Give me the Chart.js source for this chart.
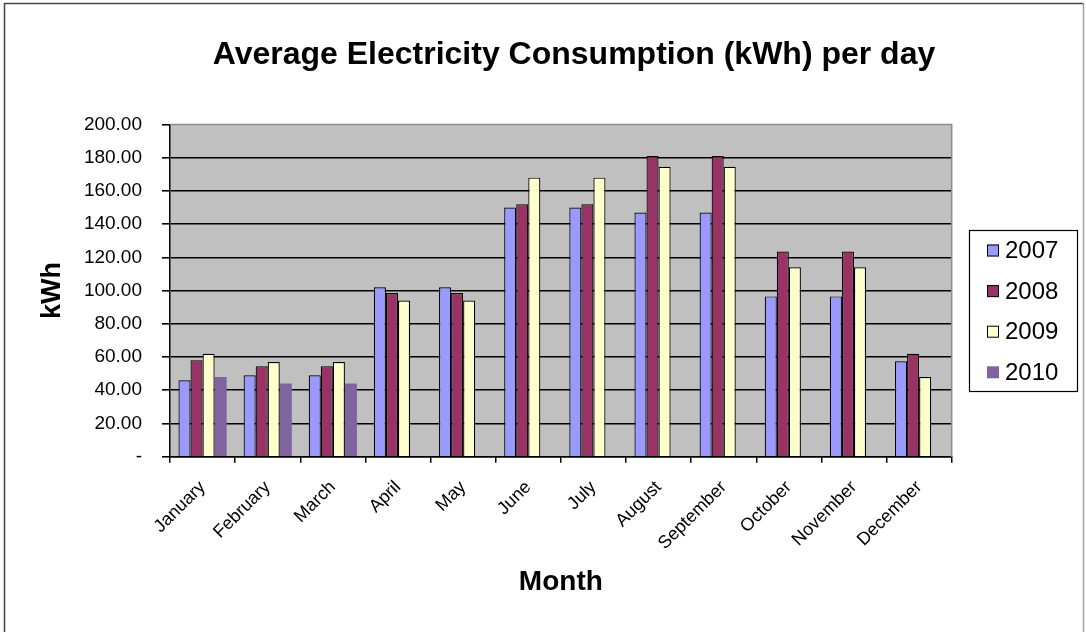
<!DOCTYPE html>
<html>
<head>
<meta charset="utf-8">
<title>Average Electricity Consumption (kWh) per day</title>
<script src="https://cdn.jsdelivr.net/npm/chart.js@4/dist/chart.umd.min.js"></script>
<style>
  html, body { margin: 0; padding: 0; background: #ffffff; }
  #wrap { width: 1086px; height: 632px; position: relative; }
</style>
</head>
<body>
<div id="wrap"><canvas id="chart" width="1086" height="632"></canvas></div>
<script>
// Months along the category axis
const months = ['January', 'February', 'March', 'April', 'May', 'June',
                'July', 'August', 'September', 'October', 'November', 'December'];

// Average daily consumption in kWh, one array per year
const kwh2007 = [46, 49, 49, 102, 102, 150, 150, 147, 147, 96.5, 96.5, 57.5];
const kwh2008 = [58, 54.5, 54.5, 98.5, 98.5, 152, 152, 181, 181, 123.5, 123.5, 62];
const kwh2009 = [62, 57, 57, 94, 94, 168, 168, 174.5, 174.5, 114, 114, 48];
const kwh2010 = [48, 44, 44, null, null, null, null, null, null, null, null, null];

const seriesLabels = ['2007', '2008', '2009', '2010'];

// Value axis labels, bottom to top (0 is shown as a dash)
const yTickLabels = ['-', '20.00', '40.00', '60.00', '80.00', '100.00',
                     '120.00', '140.00', '160.00', '180.00', '200.00'];

const chartTitle = 'Average Electricity Consumption (kWh) per day';
const yTitle = 'kWh';
const xTitle = 'Month';

const FONT = 'Arial, "Liberation Sans", sans-serif';

// Grey plot background, frame and outer border
const framePlugin = {
  id: 'frame',
  beforeDraw(chart) {
    const { ctx, chartArea: a } = chart;
    ctx.save();
    ctx.fillStyle = '#ffffff';
    ctx.fillRect(0, 0, chart.width, chart.height);
    ctx.fillStyle = '#c0c0c0';
    ctx.fillRect(a.left, a.top, a.right - a.left, a.bottom - a.top);
    // outer chart border
    ctx.lineWidth = 1.5;
    ctx.strokeStyle = '#444444';
    ctx.beginPath();
    ctx.moveTo(4.5, chart.height + 2);
    ctx.lineTo(4.5, 3.5);
    ctx.lineTo(1083.5, 3.5);
    ctx.stroke();
    ctx.strokeStyle = '#a0a0a0';
    ctx.beginPath();
    ctx.moveTo(1083.5, 3.5);
    ctx.lineTo(1083.5, chart.height + 2);
    ctx.stroke();
    ctx.restore();
  },
  beforeDatasetsDraw(chart) {
    const { ctx, chartArea: a } = chart;
    ctx.save();
    ctx.strokeStyle = '#8c8c8c';
    ctx.lineWidth = 1.5;
    ctx.beginPath();
    ctx.moveTo(a.left, a.top);
    ctx.lineTo(a.right, a.top);
    ctx.lineTo(a.right, a.bottom);
    ctx.stroke();
    ctx.restore();
  }
};

// Chart heading
const headingPlugin = {
  id: 'heading',
  afterDraw(chart) {
    const { ctx } = chart;
    ctx.save();
    ctx.fillStyle = '#000000';
    ctx.font = 'bold 32px ' + FONT;
    ctx.textAlign = 'center';
    ctx.textBaseline = 'middle';
    ctx.fillText(chartTitle, 574, 55);
    ctx.restore();
  }
};

// Boxed legend to the right of the plot
const boxLegendPlugin = {
  id: 'boxLegend',
  afterDraw(chart) {
    const { ctx } = chart;
    const x = 969.5, y = 230.5, w = 108, h = 161;
    ctx.save();
    ctx.strokeStyle = '#000000';
    ctx.lineWidth = 1.2;
    ctx.strokeRect(x, y, w, h);
    ctx.font = '24px ' + FONT;
    ctx.textBaseline = 'middle';
    ctx.textAlign = 'left';
    chart.data.datasets.forEach((ds, i) => {
      const cy = y + 20 + i * 40.6;
      ctx.fillStyle = ds.backgroundColor;
      ctx.fillRect(987, cy - 6, 12, 12);
      if (ds.borderWidth > 0) {
        ctx.strokeStyle = '#000000';
        ctx.lineWidth = 1;
        ctx.strokeRect(987.5, cy - 5.5, 11, 11);
      }
      ctx.fillStyle = '#000000';
      ctx.fillText(ds.label, 1005, cy + 1);
    });
    ctx.restore();
  }
};

const barStyle = (label, data, color, border) => ({
  label,
  data,
  backgroundColor: color,
  borderColor: '#000000',
  borderWidth: border,
  categoryPercentage: 0.74,
  barPercentage: 1.0
});

new Chart(document.getElementById('chart'), {
  type: 'bar',
  data: {
    labels: months,
    datasets: [
      barStyle(seriesLabels[0], kwh2007, '#9999ff', 1.2),
      barStyle(seriesLabels[1], kwh2008, '#993366', 1.2),
      barStyle(seriesLabels[2], kwh2009, '#ffffcc', 1.2),
      barStyle(seriesLabels[3], kwh2010, '#8064a2', 0)
    ]
  },
  options: {
    responsive: false,
    animation: false,
    layout: { padding: { left: 10, top: 124.5, right: 134.3, bottom: 0 } },
    plugins: {
      legend: { display: false },
      title: { display: false },
      tooltip: { enabled: false }
    },
    scales: {
      x: {
        grid: {
          offset: true,
          drawOnChartArea: false,
          drawTicks: true,
          tickLength: 6,
          color: '#000000',
          lineWidth: 1.5
        },
        border: { display: true, color: '#000000', width: 1.5 },
        ticks: {
          color: '#000000',
          font: { family: FONT, size: 18 },
          minRotation: 45,
          maxRotation: 45,
          padding: 14,
          autoSkip: false
        },
        title: {
          display: true,
          text: xTitle,
          color: '#000000',
          font: { family: FONT, size: 28, weight: 'bold' },
          padding: { top: 0, bottom: 33 }
        },
        afterFit(scale) { scale.height = 175.3; }
      },
      y: {
        min: 0,
        max: 200,
        grid: {
          color: ctx => (ctx.tick && ctx.tick.value === 200) ? 'rgba(0,0,0,0)' : '#000000',
          lineWidth: 1.6,
          drawTicks: true,
          tickLength: 8,
          tickColor: '#000000'
        },
        border: { display: true, color: '#000000', width: 1.5 },
        ticks: {
          stepSize: 20,
          color: '#000000',
          font: { family: FONT, size: 19 },
          padding: 20,
          callback: (value, index) => yTickLabels[index]
        },
        title: {
          display: true,
          text: yTitle,
          color: '#000000',
          font: { family: FONT, size: 27, weight: 'bold' },
          padding: { top: 26, bottom: 0 }
        },
        afterFit(scale) { scale.width = 160; }
      }
    }
  },
  plugins: [framePlugin, headingPlugin, boxLegendPlugin]
});
</script>
</body>
</html>
